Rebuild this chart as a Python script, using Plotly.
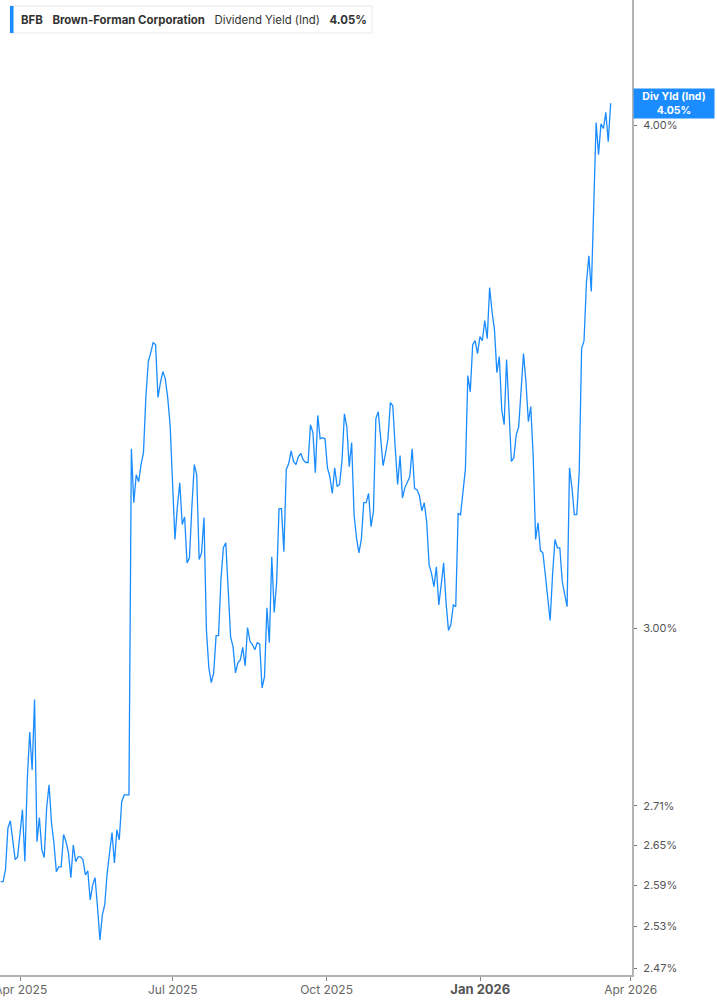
import pandas as pd
import plotly.graph_objects as go

ticker = "BFB"
company = "Brown-Forman Corporation"
metric = "Dividend Yield (Ind)"
last_label = "4.05%"

start_date = "2025-03-20"
end_date = "2026-03-20"

# Dividend yield (%), one value per trading session
yield_pct = [
    2.595, 2.595, 2.613, 2.676, 2.687, 2.653, 2.628, 2.632, 2.673, 2.704,
    2.625, 2.751, 2.827, 2.766, 2.880, 2.655, 2.692, 2.643, 2.631, 2.707,
    2.743, 2.684, 2.653, 2.610, 2.617, 2.617, 2.666, 2.655, 2.638, 2.601,
    2.650, 2.625, 2.632, 2.632, 2.628, 2.605, 2.611, 2.568, 2.590, 2.601,
    2.558, 2.510, 2.546, 2.561, 2.608, 2.643, 2.669, 2.623, 2.673, 2.658,
    2.716, 2.727, 2.727, 2.727, 3.324, 3.223, 3.275, 3.262, 3.294, 3.317,
    3.425, 3.494, 3.512, 3.532, 3.528, 3.423, 3.452, 3.474, 3.460, 3.423,
    3.370, 3.242, 3.156, 3.216, 3.260, 3.183, 3.197, 3.114, 3.123, 3.216,
    3.294, 3.275, 3.120, 3.132, 3.196, 2.997, 2.933, 2.908, 2.924, 2.987,
    2.987, 3.084, 3.141, 3.150, 3.053, 2.985, 2.968, 2.924, 2.941, 2.946,
    2.967, 2.936, 3.001, 2.977, 2.972, 2.963, 2.975, 2.973, 2.899, 2.918,
    3.035, 2.975, 3.125, 3.027, 3.079, 3.212, 3.212, 3.134, 3.285, 3.296,
    3.320, 3.300, 3.294, 3.309, 3.315, 3.303, 3.298, 3.298, 3.370, 3.355,
    3.279, 3.388, 3.343, 3.345, 3.343, 3.288, 3.271, 3.240, 3.288, 3.253,
    3.257, 3.300, 3.391, 3.366, 3.290, 3.336, 3.201, 3.159, 3.132, 3.156,
    3.223, 3.223, 3.240, 3.179, 3.207, 3.382, 3.395, 3.338, 3.292, 3.315,
    3.343, 3.413, 3.407, 3.326, 3.257, 3.311, 3.232, 3.251, 3.260, 3.271,
    3.324, 3.249, 3.247, 3.236, 3.208, 3.223, 3.188, 3.111, 3.095, 3.072,
    3.107, 3.040, 3.075, 3.114, 3.044, 2.996, 3.006, 3.040, 3.037, 3.203,
    3.201, 3.240, 3.286, 3.466, 3.434, 3.528, 3.536, 3.510, 3.544, 3.536,
    3.577, 3.540, 3.645, 3.595, 3.558, 3.472, 3.504, 3.399, 3.370, 3.498,
    3.403, 3.300, 3.307, 3.351, 3.366, 3.442, 3.510, 3.454, 3.376, 3.405,
    3.309, 3.156, 3.186, 3.136, 3.132, 3.093, 3.058, 3.013, 3.093, 3.156,
    3.141, 3.141, 3.081, 3.058, 3.037, 3.288, 3.251, 3.201, 3.201, 3.279,
    3.520, 3.536, 3.655, 3.712, 3.637, 3.816, 4.006, 3.933, 4.003, 3.992,
    4.029, 3.962, 4.050,
]

dates = pd.date_range(start_date, end_date, periods=len(yield_pct))

x_tick_vals = ["2025-04-01", "2025-07-01", "2025-10-01", "2026-01-01", "2026-04-01"]
x_tick_text = ["Apr 2025", "Jul 2025", "Oct 2025",
               "<b><span style='font-size:13px;color:#555'>Jan 2026</span></b>", "Apr 2026"]

y_tick_vals = [2.47, 2.53, 2.59, 2.65, 2.71, 3.00, 4.00]
y_tick_text = [f"{v:.2f}%" for v in y_tick_vals]

LINE = "#1a8cff"
AXIS = "#b3b3b3"

fig = go.Figure()
fig.add_trace(go.Scatter(
    x=dates, y=yield_pct, mode="lines",
    line=dict(color=LINE, width=1.3),
    hoverinfo="skip", showlegend=False,
))

fig.update_layout(
    width=717, height=1005,
    margin=dict(l=0, r=85, t=0, b=30),
    paper_bgcolor="white", plot_bgcolor="white",
    font=dict(family="Inter, Roboto, sans-serif", color="#666", size=12),
    showlegend=False,
)

fig.update_xaxes(
    range=["2025-03-19 14:30", "2026-04-01 18:30"],
    tickvals=x_tick_vals, ticktext=x_tick_text,
    showgrid=False, zeroline=False,
    showline=True, linecolor=AXIS, linewidth=2,
    ticks="outside", ticklen=4, tickcolor="#888", tickwidth=1,
    tickfont=dict(size=12, color="#666"),
    ticklabeloverflow="allow", automargin=False,
    ticklabelstandoff=-1,
)

fig.update_yaxes(
    type="log", side="right",
    range=[0.39096, 0.63312],
    tickvals=y_tick_vals, ticktext=y_tick_text,
    showgrid=False, zeroline=False,
    showline=True, linecolor=AXIS, linewidth=2,
    ticks="outside", ticklen=3, tickcolor="#777", tickwidth=1,
    tickfont=dict(size=11, color="#555"),
    ticklabelstandoff=4, automargin=False,
)

# Header box (top-left)
fig.add_shape(type="rect", xref="paper", yref="paper",
              x0=10 / 632, x1=372 / 632, y0=1 - 33 / 975, y1=1 - 6 / 975,
              line=dict(color="#e8e8e8", width=1), fillcolor="white", layer="below")
fig.add_shape(type="rect", xref="paper", yref="paper",
              x0=10 / 632, x1=13.5 / 632, y0=1 - 33 / 975, y1=1 - 6 / 975,
              line=dict(width=0), fillcolor=LINE)
fig.add_annotation(
    xref="paper", yref="paper", x=19 / 632, y=1 - 19.5 / 975,
    xanchor="left", yanchor="middle", showarrow=False,
    text=(f"<b>{ticker}</b>&nbsp;&nbsp;&nbsp;<b>{company}</b>&nbsp;&nbsp;&nbsp;"
          f"{metric}&nbsp;&nbsp;&nbsp;<b>{last_label}</b>"),
    font=dict(size=11.4, color="#333", family="Inter, sans-serif"),
)

# Last value label on the right axis
fig.add_annotation(
    xref="paper", yref="y", x=1, y=0.6073,
    xanchor="left", yanchor="middle", showarrow=False,
    text=f"<b>Div Yld (Ind)<br>{last_label}</b>",
    font=dict(size=10.5, color="white", family="Inter, sans-serif"),
    bgcolor=LINE, borderpad=1, width=78, align="center",
    xshift=1,
)

fig.write_html("out.html", config={"displayModeBar": False},
               post_script="document.body.style.margin='0px';")
